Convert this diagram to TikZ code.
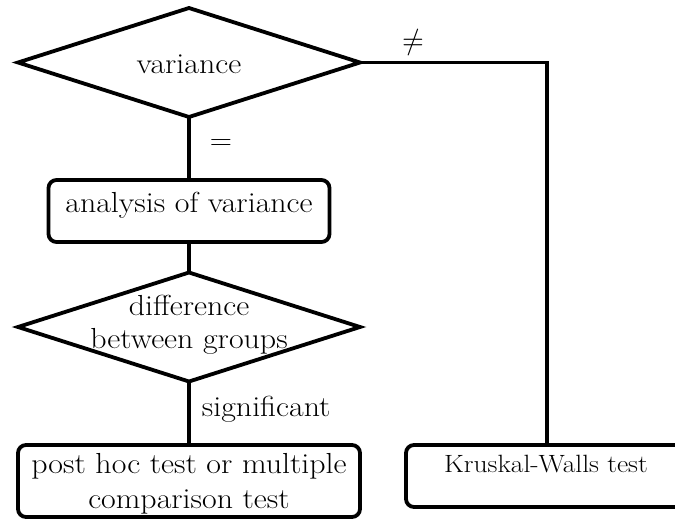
\documentclass[tikz,border=0pt]{standalone}
\usepackage{fontspec}
\usepackage{unicode-math}
\setmainfont{Latin Modern Roman}[FakeStretch=1.1]
\usetikzlibrary{shapes.geometric}
\begin{document}
\begin{tikzpicture}[x=1pt,y=-1pt,line width=3.8pt,
  decision/.style={draw,diamond,inner sep=0pt,outer sep=0pt,
    minimum width=342pt,minimum height=109pt},
  process/.style={draw,rectangle,rounded corners=8pt,inner sep=0pt,outer sep=0pt},
  caption/.style={inner sep=0pt,anchor=base,font=\fontsize{29}{34}\selectfont},
  edgelabel/.style={inner sep=0pt,font=\fontsize{28}{34}\selectfont}]
\useasboundingbox (0,0) rectangle (675,519);

% shapes
\node[decision] (var) at (189,62.5) {};
\node[process,minimum width=281pt,minimum height=62pt] (anova) at (189,211) {};
\node[decision] (diff) at (189,327) {};
\node[process,minimum width=342pt,minimum height=72pt] (posthoc) at (189,481) {};
\node[process,minimum width=282pt,minimum height=62pt] (kw) at (547,476) {};

% texts
\node[caption] (vartext) at (189,74) {variance};
\node[caption] (anovatext) at (189,212) {analysis of variance};
\node[caption] (difftext1) at (189,315) {difference};
\node[caption] (difftext2) at (189,348) {between groups};
\node[caption] (posttext1) at (189,473) {post hoc test or multiple};
\node[caption] (posttext2) at (189,508) {comparison test};
\node[caption,font=\fontsize{25}{30}\selectfont] (kwtext) at (546,472) {Kruskal-Walls test};

% connectors
\draw (var.south) -- (anova.north);
\draw (anova.south) -- (diff.north);
\draw (diff.south) -- (posthoc.north);
\draw (var.east) -| (kw.north);

% connector labels
\node[edgelabel] (eq) at (221,145) {=};
\node[edgelabel] (neq) at (413,43) {$\neq$};
\node[caption,anchor=base west] (sig) at (200,416) {significant};
\end{tikzpicture}
\end{document}
